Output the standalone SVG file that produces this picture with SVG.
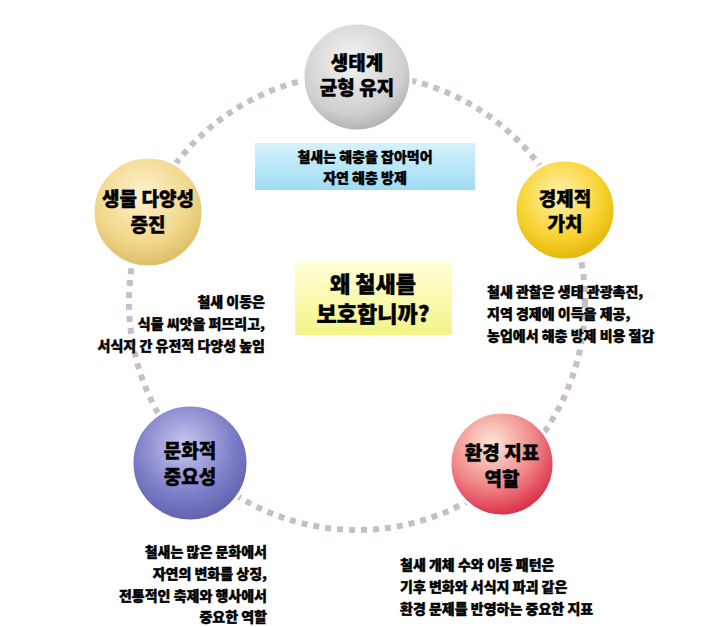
<svg xmlns="http://www.w3.org/2000/svg" width="721" height="627" viewBox="0 0 721 627">
<style>
.t{font-family:"Noto Sans CJK KR","Liberation Sans",sans-serif;font-weight:900;fill:#000;stroke:#000;stroke-width:0.4}
.n{font-size:19px;text-anchor:middle}
.d{font-size:14px}
.ring{stroke:#fff;stroke-width:3}
</style>
<defs>
<radialGradient id="g0" cx="0.45" cy="0.35" r="0.7"><stop offset="0" stop-color="#f4f4f4"/><stop offset="0.7" stop-color="#cfcfcf"/><stop offset="1" stop-color="#a8a8a8"/></radialGradient>
<radialGradient id="g1" cx="0.45" cy="0.35" r="0.7"><stop offset="0" stop-color="#fff3b0"/><stop offset="0.6" stop-color="#f7d331"/><stop offset="1" stop-color="#e0b000"/></radialGradient>
<radialGradient id="g2" cx="0.45" cy="0.35" r="0.7"><stop offset="0" stop-color="#fff2d0"/><stop offset="0.6" stop-color="#f1d88c"/><stop offset="1" stop-color="#d8b860"/></radialGradient>
<radialGradient id="g3" cx="0.45" cy="0.35" r="0.7"><stop offset="0" stop-color="#c8c8f0"/><stop offset="0.6" stop-color="#7e7ec8"/><stop offset="1" stop-color="#5a5aa8"/></radialGradient>
<radialGradient id="g4" cx="0.4" cy="0.3" r="0.75"><stop offset="0" stop-color="#fde8d8"/><stop offset="0.55" stop-color="#f08888"/><stop offset="1" stop-color="#d82040"/></radialGradient>
<linearGradient id="lb" x1="0" y1="0" x2="0" y2="1"><stop offset="0" stop-color="#d6f2fc"/><stop offset="1" stop-color="#9fdcf3"/></linearGradient>
<linearGradient id="ly" x1="0" y1="0" x2="0" y2="1"><stop offset="0" stop-color="#ffffd8"/><stop offset="1" stop-color="#f4f488"/></linearGradient>
</defs>
<g id="connectors">
<circle cx="357" cy="302" r="228" fill="none" stroke="#c9bccb" stroke-width="6" stroke-dasharray="6 6"/>
</g>
<g id="center"><rect x="295" y="262" width="157" height="73" fill="url(#ly)"/>
<text class="t" x="373" y="292" font-size="22" text-anchor="middle">왜 철새를</text>
<text class="t" x="373" y="322" font-size="22" text-anchor="middle">보호합니까?</text></g>
<g id="node-top"><circle class="ring" cx="357" cy="77" r="54" fill="url(#g0)"/>
<text class="t n" x="357" y="70">생태계</text><text class="t n" x="357" y="95">균형 유지</text>
<rect x="255" y="143" width="220" height="47" fill="url(#lb)"/>
<text class="t d" x="365" y="162" text-anchor="middle">철새는 해충을 잡아먹어</text>
<text class="t d" x="365" y="183" text-anchor="middle">자연 해충 방제</text></g>
<g id="node-right"><circle class="ring" cx="565" cy="210" r="50" fill="url(#g1)"/>
<text class="t n" x="565" y="206">경제적</text><text class="t n" x="565" y="231">가치</text>
<text class="t d" x="487" y="297">철새 관찰은 생태 관광촉진,</text>
<text class="t d" x="487" y="319">지역 경제에 이득을 제공,</text>
<text class="t d" x="487" y="341">농업에서 해충 방제 비용 절감</text></g>
<g id="node-left"><circle class="ring" cx="148" cy="212" r="55" fill="url(#g2)"/>
<text class="t n" x="148" y="206">생물 다양성</text><text class="t n" x="148" y="232">증진</text>
<text class="t d" x="265" y="307" text-anchor="end">철새 이동은</text>
<text class="t d" x="265" y="329" text-anchor="end">식물 씨앗을 퍼뜨리고,</text>
<text class="t d" x="265" y="351" text-anchor="end">서식지 간 유전적 다양성 높임</text></g>
<g id="node-bl"><circle class="ring" cx="190" cy="463" r="58" fill="url(#g3)"/>
<text class="t n" x="190" y="458">문화적</text><text class="t n" x="190" y="484">중요성</text>
<text class="t d" x="267" y="557" text-anchor="end">철새는 많은 문화에서</text>
<text class="t d" x="267" y="579" text-anchor="end">자연의 변화를 상징,</text>
<text class="t d" x="267" y="601" text-anchor="end">전통적인 축제와 행사에서</text>
<text class="t d" x="267" y="622" text-anchor="end">중요한 역할</text></g>
<g id="node-br"><circle class="ring" cx="502" cy="464" r="52" fill="url(#g4)"/>
<text class="t n" x="502" y="460">환경 지표</text><text class="t n" x="502" y="486">역할</text>
<text class="t d" x="400" y="570">철새 개체 수와 이동 패턴은</text>
<text class="t d" x="400" y="592">기후 변화와 서식지 파괴 같은</text>
<text class="t d" x="400" y="614">환경 문제를 반영하는 중요한 지표</text></g>
</svg>
